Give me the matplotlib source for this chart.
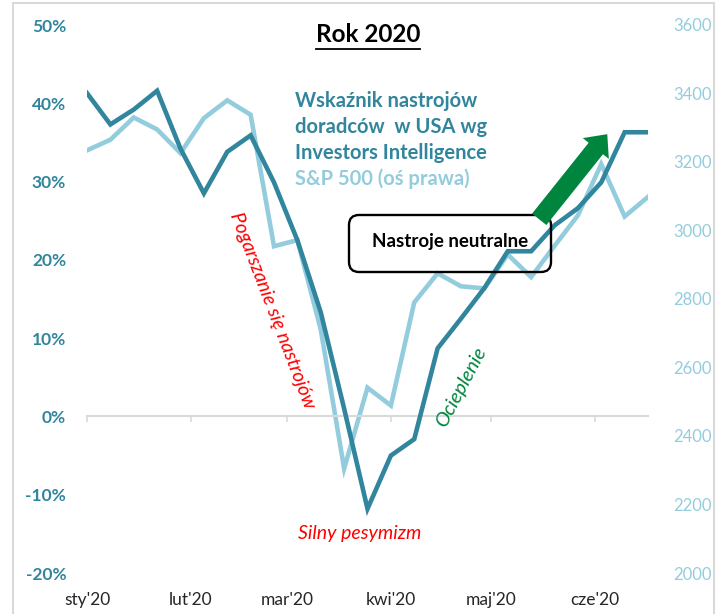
import matplotlib.pyplot as plt
import numpy as np
from matplotlib.lines import Line2D
from matplotlib.patches import FancyBboxPatch, FancyArrowPatch, Rectangle

plt.rcParams["font.family"] = ["Lato", "DejaVu Sans"]

# Tygodniowe dane (piątki)
dates = [
    "2020-01-03", "2020-01-10", "2020-01-17", "2020-01-24", "2020-01-31",
    "2020-02-07", "2020-02-14", "2020-02-21", "2020-02-28", "2020-03-06",
    "2020-03-13", "2020-03-20", "2020-03-27", "2020-04-03", "2020-04-10",
    "2020-04-17", "2020-04-24", "2020-05-01", "2020-05-08", "2020-05-15",
    "2020-05-22", "2020-05-29", "2020-06-05", "2020-06-12", "2020-06-19",
]
# Wskaźnik nastrojów doradców (Investors Intelligence), w %
sentiment = [
    41.3, 37.3, 39.2, 41.6, 34.2, 28.5, 33.8, 35.9, 29.9, 22.5,
    13.3, 1.0, -11.8, -5.0, -2.9, 8.7, 12.5, 16.4, 21.1, 21.1,
    24.4, 26.6, 29.9, 36.3, 36.3,
]
# S&P 500 (oś prawa)
spx = [
    3234, 3265, 3330, 3295, 3226, 3328, 3380, 3338, 2954, 2972,
    2711, 2305, 2541, 2489, 2790, 2875, 2837, 2831, 2930, 2864,
    2955, 3044, 3194, 3041, 3098,
]
tick_dates = ["2020-01-03", "2020-02-03", "2020-03-03",
              "2020-04-03", "2020-05-03", "2020-06-03"]
tick_labels = ["sty'20", "lut'20", "mar'20", "kwi'20", "maj'20", "cze'20"]
left_ticks = [-20, -10, 0, 10, 20, 30, 40, 50]
right_ticks = [2000, 2200, 2400, 2600, 2800, 3000, 3200, 3400, 3600]

DARK = "#31859C"
LIGHT = "#93CDDD"
GREEN = "#00853F"
GRID = "#D9D9D9"

x = np.array(dates, dtype="datetime64[D]")
xt = np.array(tick_dates, dtype="datetime64[D]")

fig = plt.figure(figsize=(7.22, 6.14), dpi=100)
ax = fig.add_axes([87 / 722, 41 / 614, 561 / 722, 548 / 614])
ax2 = ax.twinx()

ax2.plot(x, spx, color=LIGHT, lw=3.3, solid_joinstyle="miter", zorder=2)
ax.plot(x, sentiment, color=DARK, lw=3.3, solid_joinstyle="miter", zorder=3)

ax.set_zorder(ax2.get_zorder() + 1)
ax.patch.set_visible(False)

ax.set_xlim(x[0], x[-1])
ax.set_ylim(-20, 50)
ax2.set_ylim(2000, 3600)

# lewa oś
ax.set_yticks(left_ticks)
ax.set_yticklabels([f"{v}%" for v in left_ticks], color=DARK,
                   fontweight="bold", fontsize=12.5)
ax.tick_params(axis="y", length=0, pad=15)

# prawa oś
ax2.set_yticks(right_ticks)
ax2.set_yticklabels([str(v) for v in right_ticks], color=LIGHT, fontsize=12)
ax2.tick_params(axis="y", length=0, pad=18)

for a in (ax, ax2):
    for s in ("top", "left", "right", "bottom"):
        a.spines[s].set_visible(False)

# oś czasu w miejscu 0%
ax.spines["bottom"].set_visible(True)
ax.spines["bottom"].set_position(("data", 0))
ax.spines["bottom"].set_color(GRID)
ax.spines["bottom"].set_linewidth(1.5)
ax.set_xticks(xt)
ax.tick_params(axis="x", direction="out", length=4, width=1.2,
               color=GRID, labelbottom=False)

sec = ax.secondary_xaxis("bottom")
sec.set_xticks(xt)
sec.set_xticklabels(tick_labels, fontsize=12.5, color="#262626")
sec.tick_params(length=0, pad=14)
sec.spines["bottom"].set_visible(False)

# tytuł z podkreśleniem
title = fig.text(368 / 722, 1 - 35 / 614, "Rok 2020", ha="center", va="center",
                 fontsize=17.5, fontweight="bold", color="black")

# opis serii
legend_lines = [
    ("Wskaźnik nastrojów", DARK, 107),
    ("doradców  w USA wg", DARK, 133),
    ("Investors Intelligence", DARK, 159),
    ("S&P 500 (oś prawa)", LIGHT, 185),
]
for txt, col, yb in legend_lines:
    fig.text(295 / 722, 1 - yb / 614, txt, ha="left", va="baseline",
             fontsize=14.5, fontweight="bold", color=col)

# komentarze
fig.text(272 / 722, 1 - 310 / 614, "Pogarszanie się nastrojów", color="red",
         style="italic", fontsize=14, rotation=-69, ha="center", va="center",
         rotation_mode="anchor")
fig.text(360 / 722, 1 - 534 / 614, "Silny pesymizm", color="red",
         style="italic", fontsize=14, ha="center", va="center")
fig.text(461 / 722, 1 - 387 / 614, "Ocieplenie", color=GREEN,
         style="italic", fontsize=14.5, rotation=62, ha="center", va="center",
         rotation_mode="anchor")

inch = fig.dpi_scale_trans
box = FancyBboxPatch((3.49, 6.14 - 2.72), 2.02, 0.57,
                     boxstyle="round,pad=0,rounding_size=0.1",
                     transform=inch, fc="none", ec="black", lw=1.7, zorder=5)
fig.patches.append(box)
fig.text(450 / 722, 1 - 242 / 614, "Nastroje neutralne", ha="center",
         va="center", fontsize=13.5, fontweight="bold", color="black")

arrow = FancyArrowPatch((5.375, 6.14 - 2.215), (6.09, 6.14 - 1.32),
                        arrowstyle="simple,head_length=1.1,head_width=2.0,tail_width=1.1",
                        mutation_scale=12, transform=inch, fc=GREEN, ec=GREEN,
                        lw=0, zorder=6)
fig.patches.append(arrow)

# ramka wykresu
frame = Rectangle((0.13, -0.2), 7.01, 6.31, transform=inch, fc="none",
                  ec=GRID, lw=1.5)
fig.patches.append(frame)

fig.canvas.draw()
bb = title.get_window_extent()
fig.add_artist(Line2D([bb.x0, bb.x1], [bb.y0 - 2, bb.y0 - 2], transform=None,
                      color="black", lw=1.3))

fig.savefig("out.png", dpi=100)
